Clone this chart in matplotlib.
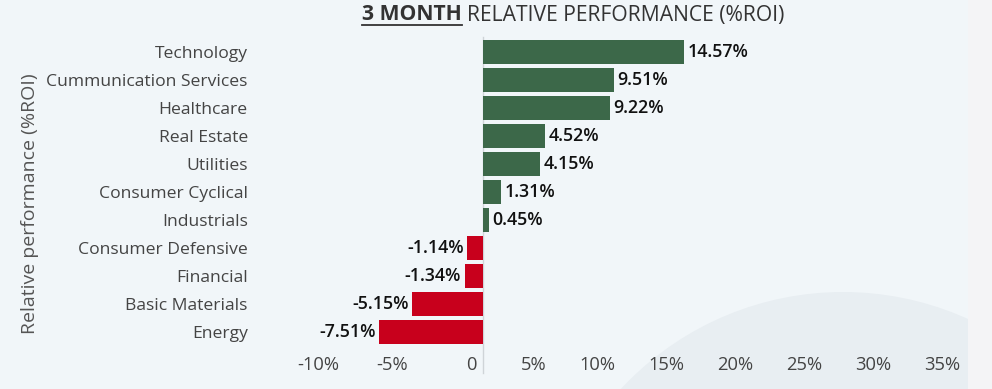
#3 month relative performance by sector, horizontal bars

import matplotlib
matplotlib.use("Agg")
import matplotlib.pyplot as plt
from matplotlib.patches import Circle, Rectangle
from matplotlib.transforms import IdentityTransform, offset_copy

sectors = ["Technology", "Cummunication Services", "Healthcare", "Real Estate",
           "Utilities", "Consumer Cyclical", "Industrials", "Consumer Defensive",
           "Financial", "Basic Materials", "Energy"]
roi = [14.57, 9.51, 9.22, 4.52, 4.15, 1.31, 0.45, -1.14, -1.34, -5.15, -7.51]
xticks = [-10, -5, 0, 5, 10, 15, 20, 25, 30, 35]
xticklabels = ["-10%", "-5%", "0", "5%", "10%", "15%", "20%", "25%", "30%", "35%"]

plt.rcParams['font.family'] = ['Open Sans', 'DejaVu Sans']

bg = '#f1f6f9'
green = '#3c6849'
red = '#c8001c'

fig = plt.figure(figsize=(9.92, 3.89), dpi=100, facecolor=bg)

# decorative background: faint circle in lower right, grey strip at right edge
fig.add_artist(Circle((843, -206), 303, transform=IdentityTransform(),
                      facecolor='#e8eef2', edgecolor='none', zorder=-2))
fig.add_artist(Rectangle((968, 0), 30, 389, transform=IdentityTransform(),
                         facecolor='#f4f4f6', edgecolor='none', zorder=-1))

ax = fig.add_axes([345/992, 1-346/389, 621/992, 308/389])
ax.set_facecolor('none')

ypos = list(range(len(sectors)))
colors = [green if v >= 0 else red for v in roi]
ax.barh(ypos, roi, height=0.89, color=colors, edgecolor='none', zorder=2)

for y, v in zip(ypos, roi):
    if v >= 0:
        ax.annotate(f"{v:.2f}%", (v, y), xytext=(2.5, 0), textcoords='offset points',
                    ha='left', va='center', fontsize=12.8, fontweight='semibold', color='#111111')
    else:
        ax.annotate(f"{v:.2f}%", (v, y), xytext=(-2.5, 0), textcoords='offset points',
                    ha='right', va='center', fontsize=12.8, fontweight='semibold', color='#111111')

ax.set_ylim(len(sectors)-0.5, -0.5)
ax.set_xlim(-10, 35)
ax.set_yticks(ypos)
ax.set_yticklabels(sectors, fontsize=12.6, color='#444444')
ax.set_xticks(xticks)
ax.set_xticklabels(xticklabels, fontsize=13.2, color='#444444')
ax.tick_params(axis='y', length=0, pad=70)
ax.tick_params(axis='x', length=0, pad=7)
for lab in ax.get_xticklabels():
    lab.set_horizontalalignment('right')
    lab.set_transform(offset_copy(lab.get_transform(), fig=fig, x=-6, y=0, units='dots'))

for s in ax.spines.values():
    s.set_visible(False)
ax.axvline(0, ymin=-0.088, ymax=1.003, color='#cfd4d8', lw=1, clip_on=False, zorder=1)

fig.text(30/992, 1-204/389, "Relative performance (%ROI)", rotation=90,
         ha='center', va='center', fontsize=14, color='#555555')

# title: underlined bold part + regular part
t1 = fig.text(362/992, 1-15/389, "3 MONTH", ha='left', va='center',
              fontsize=15.2, fontweight='bold', color='#333333')
fig.canvas.draw()
bb = t1.get_window_extent()
fig.text((bb.x1 + 5)/992, 1-15/389, "RELATIVE PERFORMANCE (%ROI)", ha='left', va='center',
         fontsize=15.2, color='#333333')
fig.add_artist(plt.Line2D([bb.x0, bb.x1], [bb.y0 + 1, bb.y0 + 1], transform=IdentityTransform(),
                          color='#333333', lw=1.3))

fig.savefig("out.png", dpi=100, facecolor=bg)
